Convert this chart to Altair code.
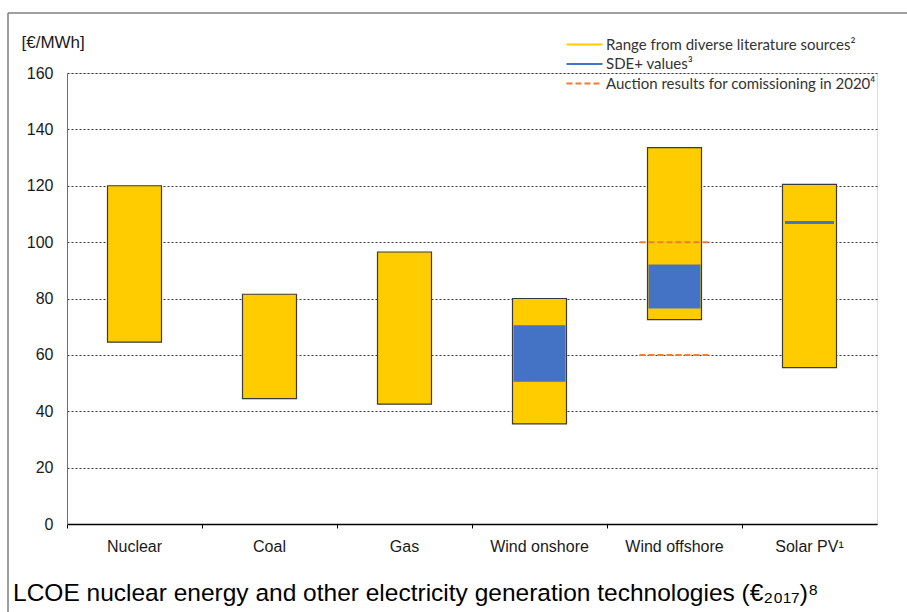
import altair as alt
import pandas as pd

# Technologies on the x axis
categories = ["Nuclear", "Coal", "Gas", "Wind onshore", "Wind offshore", "Solar PV¹"]

# LCOE range from literature sources [€/MWh]
range_low = [64.5, 44.5, 42.5, 35.5, 72.5, 55.5]
range_high = [120, 81.5, 96.5, 80, 133.5, 120.5]

# SDE+ values [€/MWh]
sde_categories = ["Wind onshore", "Wind offshore", "Solar PV¹"]
sde_low = [51, 77, 107]
sde_high = [70, 91.5, 107]

# Auction results for commissioning in 2020 [€/MWh]
auction_categories = ["Wind offshore", "Wind offshore"]
auction_values = [100, 60]

series_labels = [
    "Range from diverse literature sources²",
    "SDE+ values³",
    "Auction results for comissioning in 2020⁴",
]
series_colors = ["#FFCC00", "#4472C4", "#ED7D31"]
series_dashes = [[10, 0], [10, 0], [6, 3]]

y_ticks = [0, 20, 40, 60, 80, 100, 120, 140, 160]

range_df = pd.DataFrame({"tech": categories, "low": range_low, "high": range_high})
sde_df = pd.DataFrame({"tech": sde_categories, "low": sde_low, "high": sde_high})
auction_df = pd.DataFrame({
    "tech": auction_categories,
    "value": auction_values,
    "series": [series_labels[2]] * len(auction_values),
})
frame_df = pd.DataFrame({"k": [0]})

FONT = "Liberation Sans"

x_enc = alt.X(
    "tech:N",
    sort=categories,
    scale=alt.Scale(domain=categories, paddingInner=0, paddingOuter=0),
    axis=alt.Axis(
        title=None,
        labelAngle=0,
        labelFont=FONT,
        labelFontSize=16,
        labelColor="#1a1a1a",
        labelPadding=10,
        bandPosition=0,
        ticks=True,
        tickSize=4,
        tickColor="#000000",
        domainColor="#000000",
        domainWidth=1.5,
        grid=False,
    ),
)

y_scale = alt.Scale(domain=[0, 160], nice=False, zero=True)
y_axis = alt.Axis(
    values=y_ticks,
    title="[€/MWh]",
    titleAngle=0,
    titleAlign="left",
    titleBaseline="middle",
    titleX=-46,
    titleY=-31,
    titleFont=FONT,
    titleFontSize=17,
    titleFontWeight="normal",
    titleColor="#1a1a1a",
    labelFont=FONT,
    labelFontSize=16,
    labelColor="#1a1a1a",
    labelPadding=14,
    ticks=False,
    domainColor="#4472C4",
    domainWidth=1,
    grid=True,
    gridColor="#3a3a3a",
    gridDash=[2, 2],
    gridWidth=1,
)

range_bars = alt.Chart(range_df).mark_bar(
    width=54, color=series_colors[0], stroke="#3a3a3a", strokeWidth=1.2
).encode(
    x=x_enc,
    y=alt.Y("low:Q", scale=y_scale, axis=y_axis),
    y2="high:Q",
)

sde_bars = alt.Chart(sde_df).mark_bar(
    width=49, color=series_colors[1], stroke=series_colors[1], strokeWidth=3
).encode(
    x=alt.X("tech:N", sort=categories),
    y=alt.Y("low:Q"),
    y2="high:Q",
)

legend = alt.Legend(
    title=None,
    orient="none",
    legendX=510,
    legendY=-36,
    symbolType="M-3,0H3",
    symbolSize=144,
    symbolStrokeWidth=2,
    labelFont="Lato",
    labelFontSize=15,
    labelColor="#333333",
    labelOffset=14,
    rowPadding=3.5,
    labelLimit=400,
)

auction_rules = alt.Chart(auction_df).mark_rule(
    strokeWidth=2, xOffset=-35, x2Offset=35
).encode(
    x=alt.X("tech:N", sort=categories),
    x2=alt.X2("tech:N"),
    y=alt.Y("value:Q"),
    color=alt.Color(
        "series:N",
        scale=alt.Scale(domain=series_labels, range=series_colors),
        legend=legend,
    ),
    strokeDash=alt.StrokeDash(
        "series:N",
        scale=alt.Scale(domain=series_labels, range=series_dashes),
        legend=legend,
    ),
)

# Outer frame of the figure (top and left edges)
frame_top = alt.Chart(frame_df).mark_rule(color="#7f7f7f", strokeWidth=1.5).encode(
    x=alt.value(-59), x2=alt.value(845), y=alt.value(-60)
)
frame_left = alt.Chart(frame_df).mark_rule(color="#7f7f7f", strokeWidth=1.5).encode(
    x=alt.value(-59), y=alt.value(-60), y2=alt.value(539)
)

chart = alt.layer(
    range_bars, sde_bars, auction_rules, frame_top, frame_left
).properties(
    width=810,
    height=451,
    padding={"left": 67, "top": 73, "right": 30, "bottom": 88},
    autosize=alt.AutoSizeParams(type="none"),
    title=alt.TitleParams(
        text="LCOE nuclear energy and other electricity generation technologies (€₂₀₁₇)⁸",
        orient="bottom",
        anchor="start",
        frame="group",
        dx=-54,
        offset=-31,
        font=FONT,
        fontSize=24.5,
        fontWeight="normal",
        color="#000000",
    ),
).configure_view(
    stroke="#6f6f6f", strokeWidth=1
).configure(background="white")

chart.save("out.html", embed_options={"renderer": "svg", "actions": False})
